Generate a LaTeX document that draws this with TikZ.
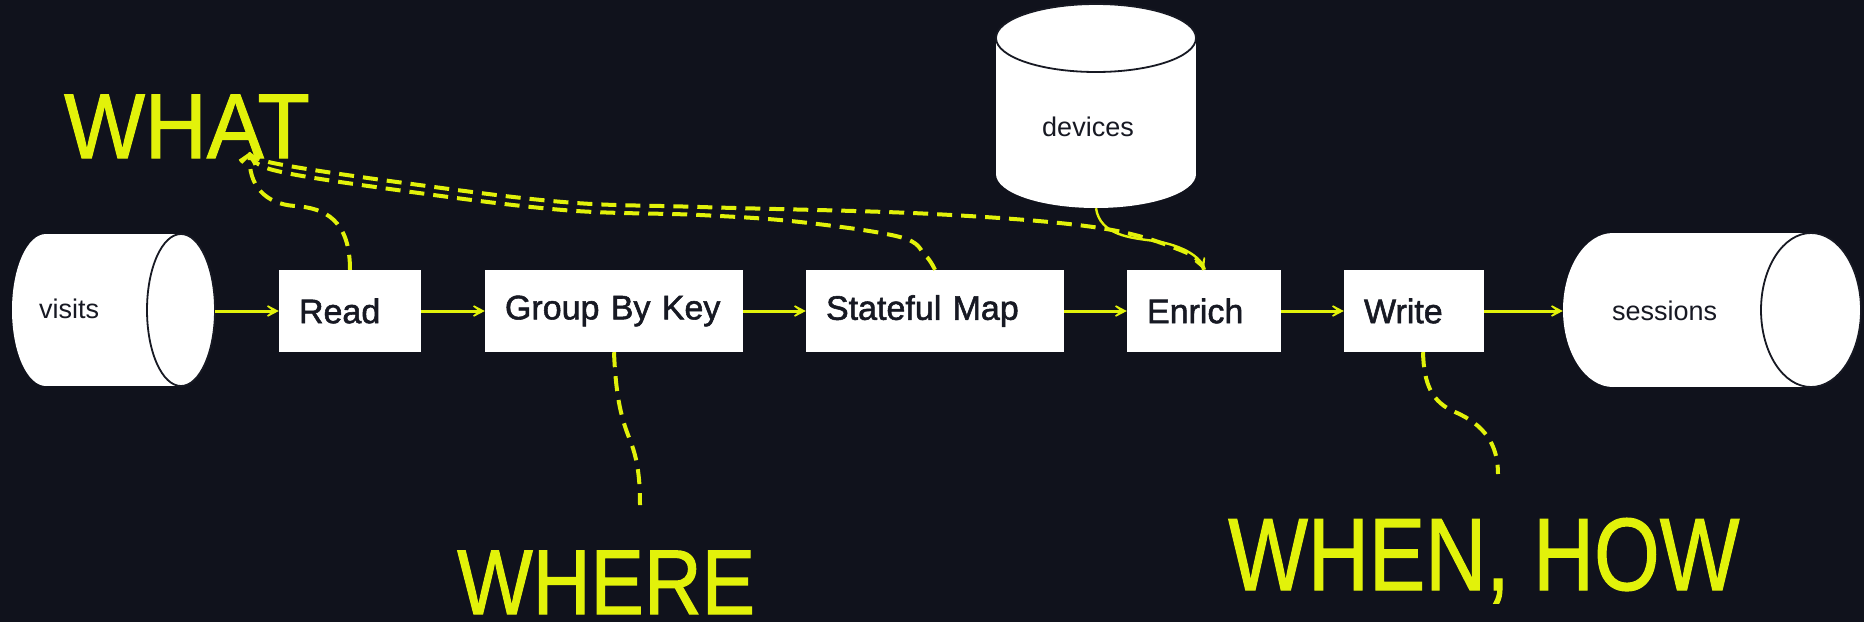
\documentclass[tikz,border=0pt]{standalone}
\usepackage{fontspec}
\setmainfont{Liberation Sans}
\newfontfamily\medfont[FakeBold=1.6]{Liberation Sans}
\newfontfamily\bigfont[FakeBold=1.2]{Liberation Sans}
\usetikzlibrary{arrows.meta}
\definecolor{bg}{HTML}{10121C}
\definecolor{yel}{HTML}{E2F20A}
\definecolor{ink}{HTML}{171923}
\begin{document}
\begin{tikzpicture}[x=1pt,y=-1pt,
  box/.style={fill=white, minimum height=82pt, inner xsep=20pt, inner ysep=0pt,
    align=left, text=ink, font=\medfont\fontsize{34}{40}\selectfont},
  small/.style={text=ink, inner sep=0pt, font=\fontsize{27}{32}\selectfont},
  bigl/.style={text=yel, inner sep=0pt, anchor=base west, font=\bigfont\fontsize{92}{100}\selectfont},
  hole/.style={inner sep=0pt, draw=none},
  flow/.style={draw=yel, line width=3pt, -{Stealth[length=18pt,width=19pt,inset=12pt]}},
  hint/.style={draw=yel, line width=4pt, dash pattern=on 15pt off 9pt},
  hintarrow/.style={hint, -{Straight Barb[length=9pt,width=16pt,line width=3pt]}},
  rim/.style={draw=ink, line width=1.8pt}
]
\fill[bg] (0,0) rectangle (1864,622);
\useasboundingbox (0,0) rectangle (1864,622);

% visits cylinder
\fill[white] (46,234) rectangle (181,386);
\fill[white] (46,310) ellipse [x radius=34pt, y radius=76pt];
\fill[white] (181,310) ellipse [x radius=34pt, y radius=76pt];
\draw[rim] (181,310) ellipse [x radius=34pt, y radius=76pt];
\node[hole, minimum width=203pt, minimum height=152pt] (visits) at (113.5,310) {};
\node[small, anchor=west] (visitslbl) at (39,309) {visits};

% devices cylinder
\fill[white] (996,38) rectangle (1196,174);
\fill[white] (1096,174) ellipse [x radius=100pt, y radius=34pt];
\fill[white] (1096,38) ellipse [x radius=100pt, y radius=34pt];
\draw[rim] (1096,38) ellipse [x radius=100pt, y radius=34pt];
\node[hole, minimum width=200pt, minimum height=204pt] (devices) at (1096,106) {};
\node[small, anchor=base] (deviceslbl) at (1088,136) {devices};

% sessions cylinder
\fill[white] (1613,233) rectangle (1811,387);
\fill[white] (1613,310) ellipse [x radius=50pt, y radius=77pt];
\fill[white] (1811,310) ellipse [x radius=50pt, y radius=77pt];
\draw[rim] (1811,310) ellipse [x radius=50pt, y radius=77pt];
\node[hole, minimum width=298pt, minimum height=154pt] (sessions) at (1712,310) {};
\node[small, anchor=west] (sessionslbl) at (1612,311) {sessions};

% boxes
\node[box, text width=102pt] (read) at (350,311) {Read};
\node[box, text width=218pt] (gbk) at (614,311) {Group By Key};
\node[box, text width=218pt] (sm) at (935,311) {Stateful Map};
\node[box, text width=114pt] (enrich) at (1204,311) {Enrich};
\node[box, text width=100pt] (write) at (1414,311) {Write};

% flow arrows
\draw[flow] (visits.east |- read.west) -- (read.west);
\draw[flow] (read.east) -- (gbk.west);
\draw[flow] (gbk.east) -- (sm.west);
\draw[flow] (sm.east) -- (enrich.west);
\draw[flow] (enrich.east) -- (write.west);
\draw[flow] (write.east) -- (sessions.west |- write.east);
\draw[draw=yel, line width=2.4pt, -{Stealth[length=18pt,width=19pt,inset=12pt]}]
  (devices.south) .. controls (1100,235) and (1130,238) .. (1155,241)
  .. controls (1180,245) and (1198,255) .. (enrich.north);

% labels
\node[bigl] (what) at (64,158) {\scalebox{0.93}[1]{WHAT}};
\node[bigl] (where) at (457,614) {\scalebox{0.87}[1]{WHERE}};
\node[bigl, font=\bigfont\fontsize{103}{110}\selectfont] (whenhow) at (1228,590) {\scalebox{0.82}[1]{WHEN, HOW}};

\coordinate (whattip) at (250,152);
\coordinate (whereend) at (640,505);
\coordinate (whenend) at (1498,474);

% dashed hints
\draw[hintarrow] (read.north) .. controls (350,220) and (325,208) .. (295,206)
  .. controls (265,204) and (248,185) .. (whattip);
\draw[hintarrow] plot[smooth, tension=0.6] coordinates {(sm.north) (925,255) (900,237) (800,222) (700,215) (563,210) (397,190) (273,170) (whattip)};
\draw[hintarrow] plot[smooth, tension=0.6] coordinates {(enrich.north) (1185,252) (1100,228) (933,214) (700,207) (563,202) (397,182) (273,163) (whattip)};
\draw[hint] (gbk.south) .. controls (616,400) and (622,420) .. (630,440)
  .. controls (638,460) and (640,480) .. (whereend);
\draw[hint] ([xshift=9pt]write.south) .. controls (1424,385) and (1432,402) .. (1455,412)
  .. controls (1485,425) and (1498,445) .. (whenend);
\end{tikzpicture}
\end{document}
